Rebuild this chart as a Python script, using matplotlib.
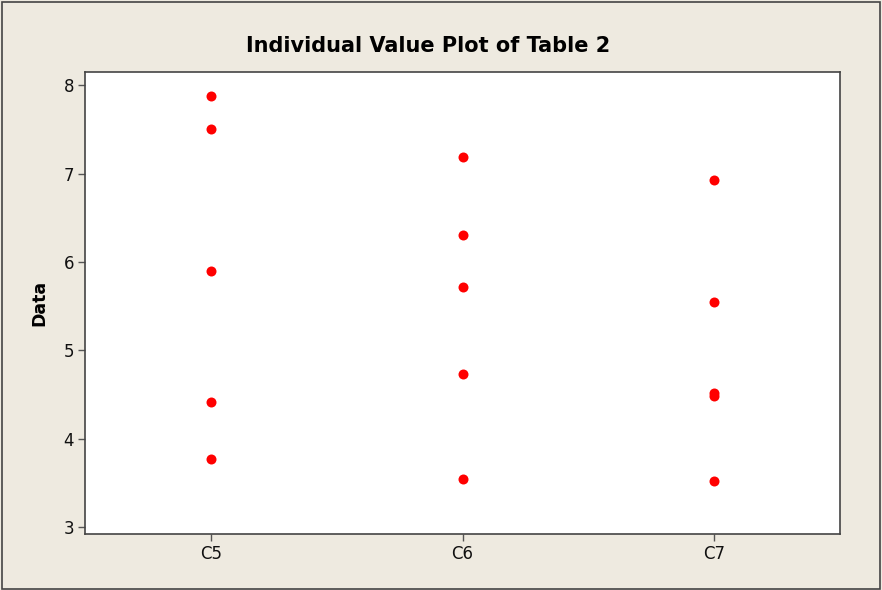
import matplotlib
matplotlib.use("Agg")
import matplotlib.pyplot as plt
from matplotlib.patches import Rectangle

# Individual values per column
categories = ["C5", "C6", "C7"]
c5 = [7.88, 7.50, 5.90, 4.41, 3.77]
c6 = [7.19, 6.30, 5.72, 4.73, 3.54]
c7 = [6.93, 5.55, 4.52, 4.48, 3.52]
series = [c5, c6, c7]
yticks = [3, 4, 5, 6, 7, 8]

W, H, DPI = 882, 590, 100
bg = "#EEEAE0"
fig = plt.figure(figsize=(W / DPI, H / DPI), dpi=DPI, facecolor=bg)

# outer frame
fig.patches.append(Rectangle((2 / W, 1 / H), 878 / W, 587 / H, transform=fig.transFigure,
                             fill=False, edgecolor="#444444", linewidth=1.2))

left, right, top, bottom = 85, 840, 72, 534
ax = fig.add_axes([left / W, 1 - bottom / H, (right - left) / W, (bottom - top) / H])
ax.set_facecolor("white")

for i, vals in enumerate(series, start=1):
    ax.plot([i] * len(vals), vals, linestyle="none", marker="o",
            markersize=7.2, color="#FF0000", markeredgewidth=0)

ax.set_xlim(0.5, 3.5)
ax.set_ylim(2.92, 8.15)
ax.set_xticks(range(1, len(categories) + 1))
ax.set_xticklabels(categories)
ax.set_yticks(yticks)
ax.set_yticklabels([str(t) for t in yticks])

for s in ax.spines.values():
    s.set_color("#444444")
    s.set_linewidth(1.2)
ax.tick_params(direction="out", length=5, width=1, color="#555555",
               labelsize=12, labelcolor="#111111", pad=3)

ax.set_ylabel("Data", fontsize=12.5, fontweight="bold", labelpad=11)
fig.text(428 / W, 1 - 46 / H, "Individual Value Plot of Table 2",
         ha="center", va="center", fontsize=15, fontweight="bold")

fig.savefig("out.png", dpi=DPI, facecolor=bg)
